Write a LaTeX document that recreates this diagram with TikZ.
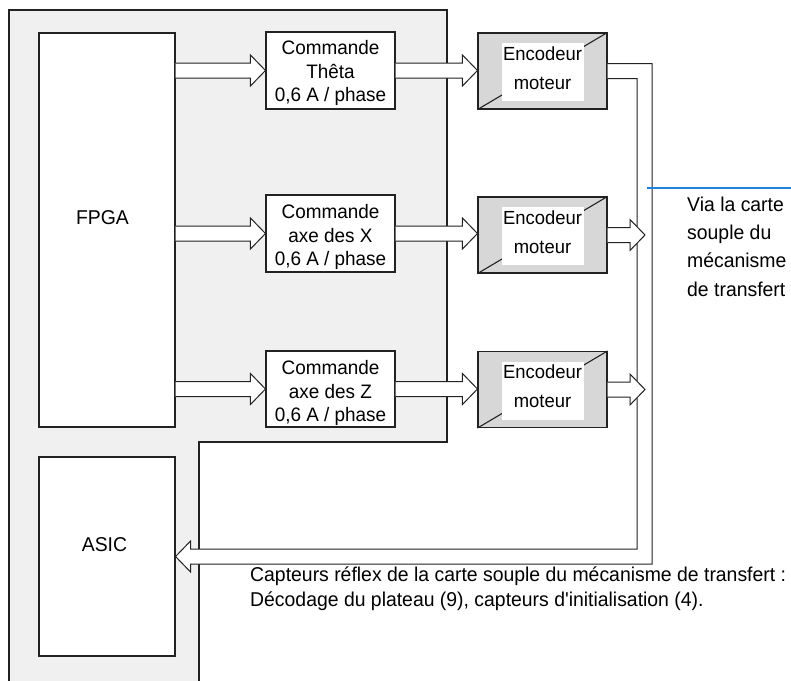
\documentclass[tikz,border=0pt]{standalone}
\usepackage{fontspec}
\setmainfont[FakeStretch=0.97,Ligatures=TeXOff]{Liberation Sans}
\usetikzlibrary{calc}
\definecolor{panel}{HTML}{F0F0F0}
\definecolor{encfill}{HTML}{D7D7D7}
\definecolor{ln}{HTML}{222222}
\definecolor{viablue}{HTML}{1E82DC}
\tikzset{
  base/.style={draw=ln, line width=1.1pt},
  blk/.style={base, fill=white, inner sep=0pt},
  encbox/.style={base, fill=encfill, inner sep=0pt, minimum width=129pt, minimum height=76pt},
  encw/.style={fill=white, inner sep=0pt, minimum width=82pt, minimum height=58pt},
  harrow/.style={draw=ln, line width=1pt, fill=white, line join=miter},
  bigtxt/.style={font=\fontsize{20}{25}\selectfont, inner sep=0pt},
  cmdtxt/.style={font=\fontsize{19.5}{23.4}\selectfont, align=center, inner sep=0pt, anchor=base},
  enctxt/.style={font=\fontsize{19}{29}\selectfont, align=center, inner sep=0pt, anchor=base},
}
\newcommand\fatarrow[2]{\draw[harrow] let \p1=(#1), \p2=(#2) in
  (\x1,\y2+7.5pt) -- (\x2-15pt,\y2+7.5pt) -- (\x2-15pt,\y2+15.5pt) -- (\x2,\y2)
  -- (\x2-15pt,\y2-15.5pt) -- (\x2-15pt,\y2-7.5pt) -- (\x1,\y2-7.5pt);}
\begin{document}
\begin{tikzpicture}[x=1pt,y=-1pt]
\useasboundingbox (0,0) rectangle (791,680);
% panel
\fill[panel] (9,10) -- (447,10) -- (447,442) -- (199,442) -- (199,681) -- (9,681) -- cycle;
\draw[base] (9,681) -- (9,10) -- (447,10) -- (447,442) -- (199,442) -- (199,681);
% FPGA / ASIC
\node[blk, minimum width=136pt, minimum height=394pt] (fpga) at (107,230) {};
\node[bigtxt] (fpgat) at (102.5,218) {FPGA};
\node[blk, minimum width=136pt, minimum height=199pt] (asic) at (107,556.5) {};
\node[bigtxt] (asict) at (104.5,544.5) {ASIC};
% drivers
\node[blk, minimum width=129pt, minimum height=77pt] (cth) at (330.5,70.5) {};
\node[blk, minimum width=129pt, minimum height=77pt] (cx) at (330.5,233.5) {};
\node[blk, minimum width=129pt, minimum height=76pt] (cz) at (330.5,389) {};
\node[cmdtxt] (ctht) at ($(cth.north)+(0,70.2)$) {Commande\\Thêta\\0,6 A / phase};
\node[cmdtxt] (cxt) at ($(cx.north)+(0,71)$) {Commande\\axe des X\\0,6 A / phase};
\node[cmdtxt] (czt) at ($(cz.north)+(0,71)$) {Commande\\axe des Z\\0,6 A / phase};
% encoders
\foreach \n/\y in {e1/71, e2/235, e3/389.5}{
  \node[encbox] (\n) at (542.5,\y) {};
  \draw[base] (\n.north east) -- (\n.south west);
  \node[encw] (\n w) at ($(\n)+(0,1)$) {};
  \node[enctxt] (\n t) at ($(\n)+(0,18)$) {Encodeur\\moteur};
}
% arrows FPGA -> drivers -> encoders
\fatarrow{fpga.east |- cth.west}{cth.west}
\fatarrow{fpga.east |- cx.west}{cx.west}
\fatarrow{fpga.east |- cz.west}{cz.west}
\fatarrow{cth.east}{cth.east -| e1.west}
\fatarrow{cx.east}{cx.east -| e2.west}
\fatarrow{cz.east}{cz.east -| e3.west}
% bus to ASIC
\coordinate (bo) at (652,564);
\coordinate (bi) at (637,549);
\coordinate (bustip) at (645,300);
\draw[harrow] ($(e1.east)+(0,-7.5)$) -| (bo) -- ($(asic.east)+(15,7.5)$)
  -- ($(asic.east)+(15,15.5)$) -- (asic.east) -- ($(asic.east)+(15,-15.5)$)
  -- ($(asic.east)+(15,-7.5)$) -- (bi) |- ($(e1.east)+(0,7.5)$);
\fatarrow{e2.east}{e2.east -| bustip}
\fatarrow{e3.east}{e3.east -| bustip}
% via label
\coordinate (via) at (647,188);
\coordinate (viaend) at (791,188);
\draw[viablue, line width=2pt] (via) -- (viaend);
\node[bigtxt, font=\fontsize{20}{28.1}\selectfont, align=left, anchor=base west] (viat) at (687,296)
  {Via la carte\\souple du\\mécanisme\\de transfert};
\node[bigtxt, align=left, anchor=base west] (capt) at (250,606.7)
  {Capteurs réflex de la carte souple du mécanisme de transfert :\\Décodage du plateau (9), capteurs d'initialisation (4).};
\end{tikzpicture}
\end{document}
